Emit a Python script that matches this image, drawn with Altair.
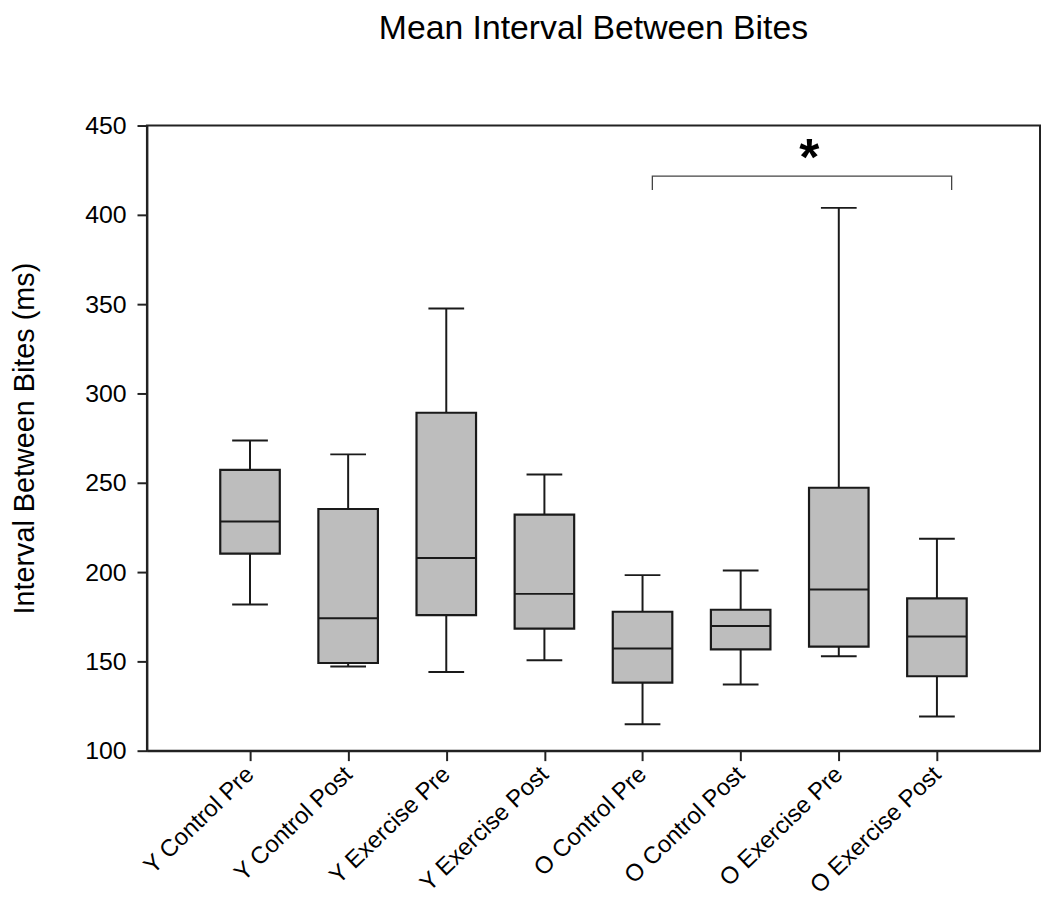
import json
import altair as alt
import pandas as pd

categories = ["Y Control Pre", "Y Control Post", "Y Exercise Pre", "Y Exercise Post",
              "O Control Pre", "O Control Post", "O Exercise Pre", "O Exercise Post"]
positions = [1, 2, 3, 4, 5, 6, 7, 8]
whisker_low = [181.8, 147.2, 144.1, 150.7, 114.8, 137.0, 152.9, 119.2]
q1 = [210.3, 149.1, 175.9, 168.3, 138.1, 156.7, 158.3, 141.7]
median = [228.3, 174.2, 207.9, 187.8, 157.2, 169.8, 190.2, 163.9]
q3 = [257.2, 235.3, 289.2, 232.2, 177.8, 178.9, 247.2, 185.3]
whisker_high = [273.7, 265.9, 347.6, 254.6, 198.3, 200.9, 403.9, 218.7]

# significance bracket between O Control Pre and O Exercise Post
bracket_x = [5.1, 5.1, 8.15, 8.15]
bracket_y = [413.9, 421.7, 421.7, 413.9]
star_x = [6.7]
star_y = [436.0]
star_text = ["*"]

FONT = "Liberation Sans"
INK = "#1a1a1a"

df = pd.DataFrame({
    "cat": categories, "pos": positions, "lo": whisker_low, "q1": q1,
    "med": median, "q3": q3, "hi": whisker_high,
})
br = pd.DataFrame({"x": bracket_x, "y": bracket_y, "order": list(range(len(bracket_x)))})
st = pd.DataFrame({"x": star_x, "y": star_y, "t": star_text})

label_expr = "datum.value >= 1 && datum.value <= 8 ? " + json.dumps(categories) + "[datum.value - 1] : ''"

xscale = alt.Scale(domain=[0, 9], nice=False, zero=False)
yscale = alt.Scale(domain=[100, 450], nice=False, zero=False)

xaxis = alt.Axis(values=positions, labelExpr=label_expr, title=None, grid=False,
                 labelAngle=-44, labelAlign="right", labelBaseline="middle",
                 labelPadding=10, tickSize=10, labelFontSize=24, labelFont=FONT,
                 labelColor="#000000", labelOverlap=False, labelBound=False, labelFlush=False)
yaxis = alt.Axis(values=[100, 150, 200, 250, 300, 350, 400, 450], grid=False,
                 title="Interval Between Bites (ms)", titleFontSize=29, titleFont=FONT,
                 titleFontWeight="normal", titleColor="#000000", titleAngle=-90,
                 titleAlign="center", titleBaseline="alphabetic", titleX=-114, titleY=315,
                 tickSize=10, labelFontSize=25, labelFont=FONT, labelColor="#000000",
                 labelPadding=11, labelFlush=False, labelOverlap=False)

base = alt.Chart(df)

whisk = base.mark_rule(color=INK, strokeWidth=2).encode(
    x=alt.X("pos:Q", scale=xscale, axis=xaxis),
    y=alt.Y("lo:Q", scale=yscale, axis=yaxis),
    y2="hi:Q",
)
cap_lo = base.mark_tick(orient="horizontal", size=36, thickness=2, color=INK, opacity=1).encode(
    x=alt.X("pos:Q", scale=xscale), y=alt.Y("lo:Q", scale=yscale))
cap_hi = base.mark_tick(orient="horizontal", size=36, thickness=2, color=INK, opacity=1).encode(
    x=alt.X("pos:Q", scale=xscale), y=alt.Y("hi:Q", scale=yscale))
box = base.mark_bar(size=60, fill="#bdbdbd", stroke=INK, strokeWidth=2.2, opacity=1).encode(
    x=alt.X("pos:Q", scale=xscale), y=alt.Y("q1:Q", scale=yscale), y2="q3:Q")
med = base.mark_tick(orient="horizontal", size=60, thickness=2, color=INK, opacity=1).encode(
    x=alt.X("pos:Q", scale=xscale), y=alt.Y("med:Q", scale=yscale))

bracket = alt.Chart(br).mark_line(color="#444444", strokeWidth=1.3).encode(
    x=alt.X("x:Q", scale=xscale), y=alt.Y("y:Q", scale=yscale), order="order:Q")
star = alt.Chart(st).mark_text(font=FONT, fontSize=52, fontWeight="bold", color="#000000",
                               baseline="middle", align="center", dy=9).encode(
    x=alt.X("x:Q", scale=xscale), y=alt.Y("y:Q", scale=yscale), text="t:N")

chart = alt.layer(whisk, cap_lo, cap_hi, box, med, bracket, star).properties(
    width=900, height=630,
    title=alt.TitleParams("Mean Interval Between Bites", fontSize=34, font=FONT,
                          fontWeight="normal", color="#000000", anchor="middle",
                          frame="group", baseline="alphabetic", offset=41),
    autosize=alt.AutoSizeParams(type="none"),
    padding={"left": 140, "top": 115, "right": 2, "bottom": 146},
).configure_view(stroke="#222222", strokeWidth=2).configure_axis(
    domainColor="#222222", domainWidth=2, tickColor="#222222", tickWidth=2,
)

chart.save("out.html", embed_options={"renderer": "svg", "actions": False})
